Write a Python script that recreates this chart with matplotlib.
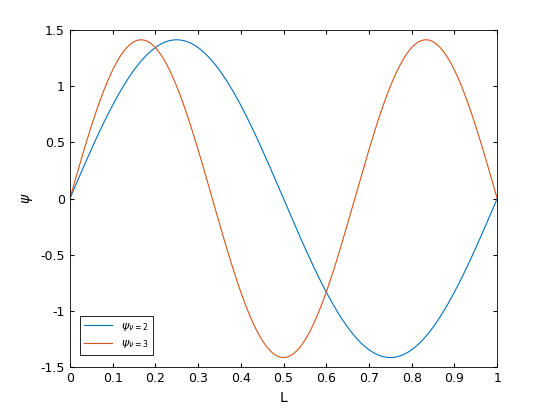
import numpy as np
import matplotlib
matplotlib.use("Agg")
import matplotlib.pyplot as plt

modes = [2, 3]
labels = [r"$\psi_{\nu=2}$", r"$\psi_{\nu=3}$"]
colors = ["#0072BD", "#D95319"]
xticks = [0, 0.1, 0.2, 0.3, 0.4, 0.5, 0.6, 0.7, 0.8, 0.9, 1]
yticks = [-1.5, -1, -0.5, 0, 0.5, 1, 1.5]

x = np.linspace(0, 1, 500)
fig = plt.figure(figsize=(5.5, 4.13), dpi=100)
ax = fig.add_axes([0.127, 0.111, 0.777, 0.816])
for n, lab, c in zip(modes, labels, colors):
    ax.plot(x, np.sqrt(2) * np.sin(n * np.pi * x), color=c, lw=0.8, label=lab)
ax.set_xlim(0, 1)
ax.set_ylim(-1.5, 1.5)
ax.set_xticks(xticks)
ax.set_xticklabels([f"{t:g}" for t in xticks])
ax.set_yticks(yticks)
ax.set_yticklabels([f"{t:g}" for t in yticks])
ax.tick_params(direction="in", labelsize=9, top=True, right=True, length=3)
for s in ax.spines.values():
    s.set_linewidth(0.6)
ax.set_xlabel("L", fontsize=10)
ax.set_ylabel(r"$\psi$", fontsize=10)
leg = ax.legend(loc="lower left", bbox_to_anchor=(0.01, 0.02), fontsize=8,
                fancybox=False, edgecolor="black", framealpha=1, handlelength=2.5)
leg.get_frame().set_linewidth(0.6)
fig.savefig("out.png", dpi=100)
